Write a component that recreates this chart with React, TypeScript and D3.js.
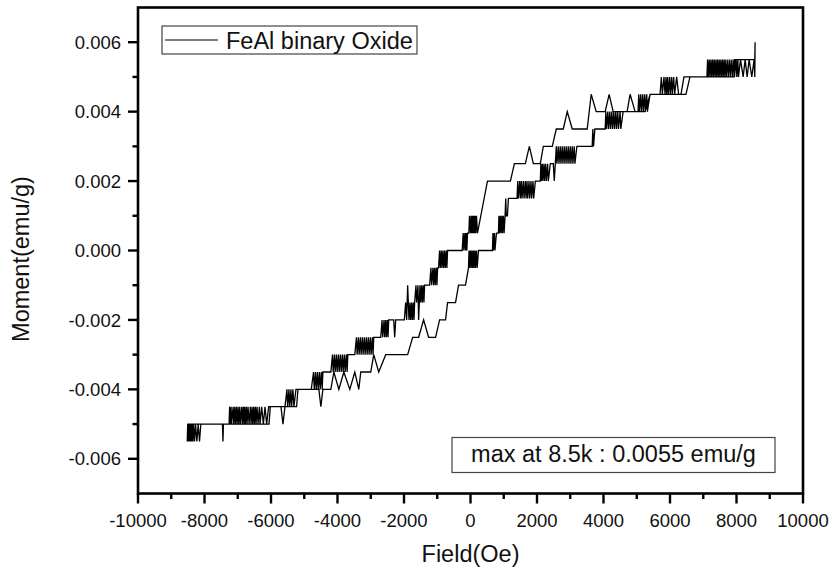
import React from "react";
import { scaleLinear, line } from "d3";

const ascendingLow = [
  [-8520, -0.0055], [-8505, -0.005], [-8490, -0.0055], [-8475, -0.005], [-8460, -0.0055], [-8445, -0.005],
  [-8430, -0.0055], [-8410, -0.005], [-8390, -0.0055], [-8370, -0.005], [-8350, -0.0055], [-8330, -0.005],
  [-8300, -0.0055], [-8270, -0.005], [-8230, -0.0055], [-8190, -0.005], [-8150, -0.0055], [-8110, -0.005],
  [-7460, -0.005], [-7445, -0.0055], [-7430, -0.005],
  [-7260, -0.005], [-7245, -0.0045], [-7230, -0.005], [-7200, -0.0045], [-7185, -0.005], [-7140, -0.0045],
  [-7120, -0.005], [-7090, -0.0045], [-7070, -0.005], [-7040, -0.0045], [-7020, -0.005], [-6990, -0.0045],
  [-6970, -0.005], [-6940, -0.0045], [-6920, -0.005], [-6880, -0.0045], [-6860, -0.005], [-6830, -0.0045],
  [-6810, -0.005], [-6790, -0.0045], [-6770, -0.005], [-6740, -0.0045], [-6720, -0.005], [-6690, -0.0045],
  [-6660, -0.005], [-6620, -0.0045], [-6600, -0.005], [-6570, -0.0045], [-6550, -0.005], [-6520, -0.0045],
  [-6500, -0.005], [-6470, -0.0045], [-6450, -0.005], [-6420, -0.0045], [-6390, -0.005], [-6350, -0.0045],
  [-6330, -0.005], [-6280, -0.0045], [-6230, -0.005], [-6180, -0.0045], [-6130, -0.005], [-6070, -0.0045],
  [-5700, -0.0045], [-5640, -0.005], [-5580, -0.0045],
  [-5520, -0.004], [-5500, -0.0045], [-5460, -0.004], [-5440, -0.0045], [-5400, -0.004], [-5380, -0.0045],
  [-5340, -0.004], [-5310, -0.0045], [-5250, -0.004],
  [-4560, -0.004], [-4500, -0.0045], [-4440, -0.004],
  [-4200, -0.004], [-4110, -0.0035], [-3960, -0.004], [-3810, -0.0035], [-3630, -0.004], [-3480, -0.0035],
  [-3360, -0.004], [-3300, -0.0035],
  [-3000, -0.0035], [-2910, -0.003], [-2760, -0.0035], [-2550, -0.003],
  [-1890, -0.003], [-1740, -0.0025], [-1560, -0.0025], [-1410, -0.002], [-1260, -0.0025], [-1050, -0.0025],
  [-930, -0.002], [-750, -0.002], [-690, -0.0015], [-450, -0.0015], [-360, -0.001], [-150, -0.001],
  [-60, -0.0005],
];

const ascendingHigh = [
  [-45, 0], [-30, -0.0005], [0, 0], [15, -0.0005], [45, 0], [60, -0.0005], [90, 0], [105, -0.0005],
  [135, 0], [150, -0.0005], [180, 0], [200, -0.0005], [240, 0],
  [660, 0], [675, 0.0005], [690, 0], [720, 0.0005], [735, 0], [780, 0.0005],
  [840, 0.0005], [855, 0.001], [870, 0.0005], [900, 0.001], [915, 0.0005], [945, 0.001], [960, 0.0005],
  [990, 0.001], [1010, 0.0005], [1040, 0.001], [1060, 0.0015], [1075, 0.001], [1110, 0.001], [1140, 0.0015],
  [1400, 0.0015], [1420, 0.002], [1440, 0.0015], [1480, 0.002], [1500, 0.0015], [1530, 0.002], [1550, 0.0015],
  [1590, 0.002], [1610, 0.0015], [1650, 0.002], [1670, 0.0015], [1700, 0.002], [1720, 0.0015], [1760, 0.002],
  [1780, 0.0015], [1820, 0.002], [1840, 0.0015], [1880, 0.002], [1900, 0.0015], [1950, 0.002],
  [2100, 0.002], [2115, 0.0025], [2130, 0.002], [2160, 0.0025], [2175, 0.002], [2210, 0.0025], [2225, 0.002],
  [2260, 0.0025], [2280, 0.002], [2320, 0.0025], [2340, 0.002], [2400, 0.0025],
  [2490, 0.0025], [2520, 0.002], [2550, 0.0025],
  [2580, 0.003], [2600, 0.0025], [2640, 0.003], [2660, 0.0025], [2700, 0.003], [2720, 0.0025], [2760, 0.003],
  [2780, 0.0025], [2820, 0.003], [2840, 0.0025], [2880, 0.003], [2900, 0.0025], [2940, 0.003], [2960, 0.0025],
  [3000, 0.003], [3020, 0.0025], [3060, 0.003], [3080, 0.0025], [3120, 0.003], [3140, 0.0025], [3200, 0.003],
  [3660, 0.003], [3680, 0.0035], [3700, 0.003], [3740, 0.0035],
  [4050, 0.0035], [4070, 0.004], [4090, 0.0035], [4130, 0.004], [4150, 0.0035], [4190, 0.004], [4210, 0.0035],
  [4250, 0.004], [4270, 0.0035], [4310, 0.004], [4330, 0.0035], [4370, 0.004], [4390, 0.0035], [4430, 0.004],
  [4450, 0.0035], [4500, 0.004], [4520, 0.0035], [4590, 0.004],
  [5040, 0.004], [5060, 0.0045], [5080, 0.004], [5120, 0.0045], [5140, 0.004], [5180, 0.0045], [5200, 0.004],
  [5240, 0.0045], [5260, 0.004], [5300, 0.0045], [5320, 0.004], [5400, 0.0045],
  [5700, 0.0045], [5740, 0.005], [5770, 0.0045], [5820, 0.005], [5850, 0.0045], [5880, 0.005], [5900, 0.0045],
  [5930, 0.005], [5950, 0.0045], [5990, 0.005], [6010, 0.0045], [6050, 0.005], [6070, 0.0045], [6110, 0.005],
  [6140, 0.0045], [6200, 0.005], [6260, 0.0045], [6330, 0.0045], [6420, 0.005],
  [7110, 0.005], [7130, 0.0055], [7150, 0.005], [7180, 0.0055], [7200, 0.005], [7230, 0.0055], [7250, 0.005],
  [7280, 0.0055], [7300, 0.005], [7330, 0.0055], [7350, 0.005], [7380, 0.0055], [7400, 0.005], [7430, 0.0055],
  [7450, 0.005], [7480, 0.0055], [7500, 0.005], [7530, 0.0055], [7550, 0.005], [7580, 0.0055], [7600, 0.005],
  [7630, 0.0055], [7650, 0.005], [7680, 0.0055], [7700, 0.005], [7740, 0.0055], [7760, 0.005], [7800, 0.0055],
  [7820, 0.005], [7860, 0.0055], [7880, 0.005], [7920, 0.0055], [7940, 0.005], [7990, 0.0055], [8010, 0.005],
  [8040, 0.0055], [8060, 0.005], [8120, 0.0055], [8200, 0.005], [8260, 0.0055], [8320, 0.005], [8380, 0.0055],
  [8460, 0.005], [8530, 0.0055], [8550, 0.005], [8560, 0.006],
];

const descendingHigh = [
  [8560, 0.006], [8550, 0.0055], [7950, 0.0055], [7930, 0.005], [6600, 0.005], [6480, 0.0045], [5400, 0.0045],
  [5250, 0.004], [4950, 0.004], [4800, 0.0045], [4710, 0.004], [4290, 0.004], [4170, 0.0045], [4050, 0.004],
  [3780, 0.004], [3630, 0.0045], [3510, 0.0035], [3060, 0.0035], [2910, 0.004], [2790, 0.0035], [2580, 0.0035],
  [2460, 0.003], [2190, 0.003], [2100, 0.0025], [1890, 0.0025], [1770, 0.003], [1650, 0.0025], [1320, 0.0025],
  [1200, 0.002], [510, 0.002], [210, 0.0005],
];

const descendingLow = [
  [180, 0.001], [160, 0.0005], [140, 0.001], [120, 0.0005], [100, 0.001], [80, 0.0005], [60, 0.001],
  [40, 0.0005], [20, 0.001], [0, 0.0005], [-30, 0.001], [-50, 0.0005],
  [-90, 0.0005], [-110, 0], [-130, 0.0005], [-150, 0], [-170, 0.0005], [-200, 0], [-220, 0.0005], [-250, 0],
  [-690, 0], [-710, -0.0005], [-730, 0], [-760, -0.0005], [-780, 0], [-810, -0.0005], [-830, 0],
  [-860, -0.0005], [-880, 0], [-910, -0.0005], [-930, 0], [-960, -0.0005],
  [-990, -0.0005], [-1010, -0.001], [-1030, -0.0005], [-1060, -0.001], [-1080, -0.0005], [-1110, -0.001],
  [-1130, -0.0005], [-1170, -0.001], [-1190, -0.0005], [-1230, -0.001],
  [-1380, -0.001], [-1400, -0.0015], [-1420, -0.001], [-1450, -0.0015], [-1470, -0.001], [-1500, -0.0015],
  [-1520, -0.001], [-1560, -0.002], [-1580, -0.001], [-1620, -0.0015], [-1640, -0.001], [-1680, -0.0015],
  [-1700, -0.002], [-1720, -0.0015], [-1750, -0.002], [-1770, -0.0015], [-1800, -0.002], [-1820, -0.0015],
  [-1850, -0.002], [-1890, -0.001], [-1920, -0.002], [-1950, -0.0015], [-1990, -0.002],
  [-2250, -0.002], [-2280, -0.0025], [-2310, -0.002],
  [-2460, -0.002], [-2480, -0.0025], [-2500, -0.002], [-2530, -0.0025], [-2550, -0.002], [-2580, -0.0025],
  [-2600, -0.002], [-2640, -0.0025], [-2660, -0.002], [-2700, -0.0025],
  [-2910, -0.0025], [-2930, -0.003], [-2950, -0.0025], [-2990, -0.003], [-3010, -0.0025], [-3050, -0.003],
  [-3070, -0.0025], [-3110, -0.003], [-3130, -0.0025], [-3170, -0.003], [-3190, -0.0025], [-3230, -0.003],
  [-3250, -0.0025], [-3290, -0.003], [-3310, -0.0025], [-3350, -0.003], [-3370, -0.0025], [-3410, -0.003],
  [-3430, -0.0025], [-3480, -0.003],
  [-3690, -0.003], [-3710, -0.0035], [-3730, -0.003], [-3770, -0.0035], [-3790, -0.003], [-3830, -0.0035],
  [-3850, -0.003], [-3890, -0.0035], [-3910, -0.003], [-3950, -0.0035], [-3970, -0.003], [-4010, -0.0035],
  [-4030, -0.003], [-4070, -0.0035], [-4090, -0.003], [-4130, -0.0035], [-4150, -0.003], [-4200, -0.0035],
  [-4440, -0.0035], [-4460, -0.004], [-4480, -0.0035], [-4520, -0.004], [-4540, -0.0035], [-4580, -0.004],
  [-4600, -0.0035], [-4640, -0.004], [-4660, -0.0035], [-4700, -0.004], [-4720, -0.0035], [-4790, -0.004],
  [-5190, -0.004], [-5230, -0.0045], [-6020, -0.0045], [-6060, -0.005], [-8500, -0.005],
];

const xTicks = [-10000, -8000, -6000, -4000, -2000, 0, 2000, 4000, 6000, 8000, 10000];
const xMinorTicks = [-9000, -7000, -5000, -3000, -1000, 1000, 3000, 5000, 7000, 9000];
const yTicks = [-0.006, -0.004, -0.002, 0, 0.002, 0.004, 0.006];
const yMinorTicks = [-0.005, -0.003, -0.001, 0.001, 0.003, 0.005];

const seriesName = "FeAl binary Oxide";
const note = "max at 8.5k : 0.0055 emu/g";

const FONT = "'Liberation Sans', Arial, Helvetica, sans-serif";

const App = () => {
  const width = 833;
  const height = 575;
  const left = 138;
  const right = 803;
  const top = 7.5;
  const bottom = 493.5;

  const xScale = scaleLinear().domain([-10000, 10000]).range([left, right]);
  const yScale = scaleLinear().domain([-0.007, 0.007]).range([bottom, top]);

  const loop = line<number[]>()
    .x((d) => xScale(d[0]))
    .y((d) => yScale(d[1]));

  const points = [...descendingHigh, ...descendingLow, ...ascendingLow, ...ascendingHigh];

  return (
    <svg
      width={width}
      height={height}
      style={{ position: "absolute", left: 0, top: 0, background: "#fff" }}
      fontFamily={FONT}
    >
      <path d={loop(points) || ""} fill="none" stroke="#000" strokeWidth={1.3} strokeLinejoin="miter" />

      {/* frame */}
      <rect x={left} y={top} width={right - left} height={bottom - top} fill="none" stroke="#000" strokeWidth={2.6} />

      {/* x axis */}
      {xTicks.map((t) => (
        <g key={"x" + t}>
          <line x1={xScale(t)} x2={xScale(t)} y1={bottom} y2={bottom + 10} stroke="#000" strokeWidth={2.4} />
          <text x={xScale(t)} y={527} textAnchor="middle" fontSize={18.5} fill="#111">
            {String(t)}
          </text>
        </g>
      ))}
      {xMinorTicks.map((t) => (
        <line key={"xm" + t} x1={xScale(t)} x2={xScale(t)} y1={bottom} y2={bottom + 5.5} stroke="#000" strokeWidth={2.4} />
      ))}

      {/* y axis */}
      {yTicks.map((t) => (
        <g key={"y" + t}>
          <line x1={left - 10} x2={left} y1={yScale(t)} y2={yScale(t)} stroke="#000" strokeWidth={2.4} />
          <text x={121} y={yScale(t)} dy="0.36em" textAnchor="end" fontSize={18.5} fill="#111">
            {t.toFixed(3)}
          </text>
        </g>
      ))}
      {yMinorTicks.map((t) => (
        <line key={"ym" + t} x1={left - 5.5} x2={left} y1={yScale(t)} y2={yScale(t)} stroke="#000" strokeWidth={2.4} />
      ))}

      <text x={(left + right) / 2} y={562} textAnchor="middle" fontSize={23.5} fill="#111">
        Field(Oe)
      </text>
      <text transform="translate(29, 259) rotate(-90)" textAnchor="middle" fontSize={23.5} fill="#111">
        Moment(emu/g)
      </text>

      {/* legend */}
      <rect x={162} y={26} width={255} height={28} fill="#fff" stroke="#444" strokeWidth={1.2} />
      <line x1={165} x2={218} y1={40} y2={40} stroke="#000" strokeWidth={1.1} />
      <text x={226} y={48.5} fontSize={23.5} fill="#111">
        {seriesName}
      </text>

      {/* note */}
      <rect x={452} y={437.5} width={323} height={35} fill="#fff" stroke="#444" strokeWidth={1.2} />
      <text x={613.5} y={462} textAnchor="middle" fontSize={23.5} fill="#111">
        {note}
      </text>
    </svg>
  );
};

export default App;
